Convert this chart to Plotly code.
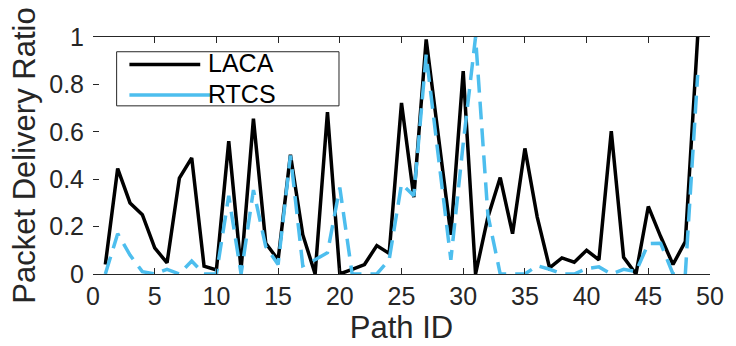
import plotly.graph_objects as go

path_id = list(range(1, 50))
laca = [0.04, 0.445, 0.30, 0.25, 0.11, 0.047, 0.405, 0.49, 0.033, 0.017,
        0.56, 0.02, 0.655, 0.13, 0.06, 0.503, 0.166, 0.0, 0.683, 0.0,
        0.02, 0.04, 0.12, 0.087, 0.722, 0.324, 0.99, 0.58, 0.165, 0.856,
        0.0, 0.24, 0.407, 0.17, 0.53, 0.24, 0.026, 0.068, 0.05, 0.10,
        0.06, 0.603, 0.07, 0.0, 0.285, 0.158, 0.04, 0.137, 1.0]
rtcs = [0.0, 0.17, 0.08, 0.01, 0.0, 0.02, 0.0, 0.055, 0.0, 0.0,
        0.33, 0.0, 0.354, 0.116, 0.04, 0.50, 0.035, 0.06, 0.09, 0.365,
        0.0, 0.0, 0.0, 0.06, 0.38, 0.33, 0.925, 0.49, 0.06, 0.55,
        1.0, 0.25, 0.0, 0.0, 0.0, 0.035, 0.02, 0.0, 0.0, 0.023,
        0.03, 0.0, 0.02, 0.01, 0.128, 0.13, 0.0, 0.0, 0.84]
x_ticks = [0, 5, 10, 15, 20, 25, 30, 35, 40, 45, 50]
y_ticks = [0, 0.2, 0.4, 0.6, 0.8, 1]
y_labels = ["0", "0.2", "0.4", "0.6", "0.8", "1"]
series_names = ["LACA", "RTCS"]
series_colors = ["black", "#4DBEEE"]

axis_color = "#262626"
font = "Liberation Sans, Arial, sans-serif"

fig = go.Figure()
fig.add_trace(go.Scatter(x=path_id, y=laca, mode="lines", name=series_names[0],
                         showlegend=False,
                         line=dict(color=series_colors[0], width=3.5)))
fig.add_trace(go.Scatter(x=path_id, y=rtcs, mode="lines", name=series_names[1],
                         showlegend=False,
                         line=dict(color=series_colors[1], width=3.5, dash="18px,9px")))

# legend box drawn in paper coordinates
shapes = [dict(type="rect", xref="paper", yref="paper", x0=0.0383, x1=0.3987,
               y0=0.7095, y1=0.9378, line=dict(color=axis_color, width=1),
               fillcolor="white", layer="above")]
leg_rows = [(0.8838, 0.1738, 0.892), (0.7552, 0.1898, 0.760)]
annotations = []
for (ly, lx1, ty), name, col in zip(leg_rows, series_names, series_colors):
    shapes.append(dict(type="line", xref="paper", yref="paper", x0=0.059, x1=lx1,
                       y0=ly, y1=ly, line=dict(color=col, width=3.5), layer="above"))
    annotations.append(dict(xref="paper", yref="paper", x=0.184, y=ty, text=name,
                            showarrow=False, xanchor="left", yanchor="middle",
                            borderpad=0,
                            font=dict(size=25, color="black", family=font)))

fig.update_layout(
    width=736, height=346,
    margin=dict(l=93, r=16, t=37, b=68),
    paper_bgcolor="white", plot_bgcolor="white",
    font=dict(family=font, color=axis_color, size=25),
    showlegend=False,
    shapes=shapes, annotations=annotations,
    xaxis=dict(range=[0, 50], tickvals=x_ticks, showgrid=False, zeroline=False,
               showline=True, linecolor=axis_color, linewidth=1, mirror="ticks",
               ticks="inside", ticklen=6, tickcolor=axis_color,
               tickfont=dict(size=25, color=axis_color),
               title=dict(text="Path ID", font=dict(size=31, color=axis_color), standoff=2)),
    yaxis=dict(range=[0, 1], tickvals=y_ticks, ticktext=y_labels, showgrid=False,
               zeroline=False, showline=False, ticks="inside", ticklen=6,
               tickcolor=axis_color, tickfont=dict(size=25, color=axis_color),
               ticklabelstandoff=8,
               title=dict(text="Packet Delivery Ratio", font=dict(size=31, color=axis_color), standoff=4)),
)

fig.write_html("out.html")
